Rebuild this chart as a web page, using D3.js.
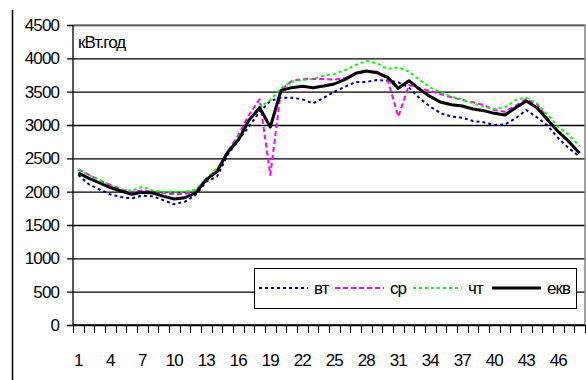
<!DOCTYPE html>
<html>
<head>
<meta charset="utf-8">
<script src="https://cdn.jsdelivr.net/npm/d3@7"></script>
<style>
  html, body { margin: 0; padding: 0; background: #fff; }
  svg { display: block; }
  text { font-family: "Liberation Sans", Arial, sans-serif; fill: #000; }
</style>
</head>
<body>
<svg id="chart" width="586" height="380"></svg>
<script>
// Half-hour intervals of the day
const hours = [1,2,3,4,5,6,7,8,9,10,11,12,13,14,15,16,17,18,19,20,21,22,23,24,
               25,26,27,28,29,30,31,32,33,34,35,36,37,38,39,40,41,42,43,44,45,46,47,48];

// Load by day, kW·h
const vt  = [2250,2110,2030,1960,1920,1900,1940,1930,1870,1810,1850,1950,2150,2225,2550,2775,
             2975,3200,3360,3410,3410,3385,3325,3405,3500,3575,3645,3645,3675,3665,3640,3560,
             3400,3275,3175,3125,3110,3060,3040,3000,3010,3100,3225,3115,2990,2800,2650,2525];
const sr  = [2340,2250,2170,2100,2040,1990,2020,2000,1980,1960,1970,2000,2200,2325,2600,2850,
             3150,3385,2250,3525,3660,3690,3690,3690,3680,3700,3760,3810,3800,3680,3125,3600,
             3550,3510,3460,3415,3375,3340,3300,3225,3200,3290,3390,3310,3100,2900,2740,2590];
const cht = [2330,2250,2175,2090,2025,2015,2075,2015,2000,2000,2000,2025,2200,2350,2575,2825,
             3075,3275,3375,3550,3650,3675,3690,3740,3765,3825,3900,3960,3925,3840,3865,3800,
             3675,3560,3485,3425,3380,3325,3275,3240,3265,3375,3410,3325,3150,2975,2850,2680];
const ekv = [2280,2200,2130,2060,2010,1960,1990,1980,1930,1890,1910,1980,2180,2300,2590,2775,
             3070,3260,2970,3520,3560,3580,3560,3585,3615,3685,3775,3810,3785,3715,3550,3665,
             3535,3425,3340,3305,3285,3240,3215,3175,3150,3260,3360,3260,3075,2900,2750,2575];

const yTicks = [0,500,1000,1500,2000,2500,3000,3500,4000,4500];
const xLabels = [1,4,7,10,13,16,19,22,25,28,31,34,37,40,43,46];
const seriesNames = ["вт","ср","чт","екв"];
const unitLabel = "кВт.год";

const series = [
  { name: seriesNames[0], values: vt,  color: "#000080", width: 2, dash: "3,3" },
  { name: seriesNames[1], values: sr,  color: "#FF00FF", width: 2, dash: "5,3" },
  { name: seriesNames[2], values: cht, color: "#00FF00", width: 2, dash: "3,3" },
  { name: seriesNames[3], values: ekv, color: "#000000", width: 3, dash: null }
];

const FONT = 17, SPACING = -0.9;

const svg = d3.select("#chart");
const plot = { left: 73, right: 585, top: 25, bottom: 325 };

const x = d3.scaleBand().domain(hours).range([plot.left, plot.right]).padding(0);
const y = d3.scaleLinear().domain([0, 4500]).range([plot.bottom, plot.top]);

// Outer frame line on the left
svg.append("line")
  .attr("x1", 12.5).attr("x2", 12.5).attr("y1", 10).attr("y2", 380)
  .attr("stroke", "#000").attr("stroke-width", 1.5);

// Horizontal gridlines with outward ticks on the value axis
const yAxis = d3.axisLeft(y)
  .tickValues(yTicks)
  .tickSize(-(plot.right - plot.left))
  .tickSizeOuter(0)
  .tickPadding(14)
  .tickFormat(d3.format("d"));

const gy = svg.append("g")
  .attr("transform", `translate(${plot.left},0)`)
  .call(yAxis);
gy.select(".domain").remove();
gy.selectAll(".tick line")
  .attr("x1", -6)
  .attr("stroke", "#000")
  .attr("stroke-width", 1.3);
gy.selectAll(".tick text")
  .attr("font-size", FONT)
  .attr("letter-spacing", SPACING)
  .attr("fill", "#000");

// Plot area border (top and right)
svg.append("path")
  .attr("d", `M${plot.left},${plot.top}H${plot.right}V${plot.bottom}`)
  .attr("fill", "none").attr("stroke", "#808080").attr("stroke-width", 1.5);

// Value axis line
svg.append("line")
  .attr("x1", plot.left).attr("x2", plot.left)
  .attr("y1", plot.top).attr("y2", plot.bottom)
  .attr("stroke", "#000").attr("stroke-width", 1.3);

// Category axis: ticks at band boundaries, labels at every third interval
const edges = hours.map(h => x(h)).concat([x(hours[hours.length - 1]) + x.bandwidth()]);
svg.append("g").selectAll("line")
  .data(edges)
  .join("line")
  .attr("x1", d => Math.round(d) + 0.5).attr("x2", d => Math.round(d) + 0.5)
  .attr("y1", plot.bottom).attr("y2", plot.bottom + 8)
  .attr("stroke", "#000").attr("stroke-width", 1);

const xAxis = d3.axisBottom(x)
  .tickValues(xLabels)
  .tickSize(0)
  .tickPadding(29);
const gx = svg.append("g")
  .attr("transform", `translate(0,${plot.bottom})`)
  .call(xAxis);
gx.select(".domain").remove();
gx.selectAll(".tick text")
  .attr("font-size", FONT)
  .attr("letter-spacing", SPACING)
  .attr("fill", "#000");

svg.append("line")
  .attr("x1", plot.left).attr("x2", plot.right)
  .attr("y1", plot.bottom).attr("y2", plot.bottom)
  .attr("stroke", "#000").attr("stroke-width", 1.5);

// Unit label inside the plot
svg.append("text")
  .attr("x", 78).attr("y", 48)
  .attr("font-size", FONT)
  .attr("letter-spacing", SPACING)
  .text(unitLabel);

// Series lines
const line = d3.line()
  .x((d, i) => x(hours[i]) + x.bandwidth() / 2)
  .y(d => y(d));

svg.append("g").selectAll("path")
  .data(series)
  .join("path")
  .attr("d", d => line(d.values))
  .attr("fill", "none")
  .attr("stroke", d => d.color)
  .attr("stroke-width", d => d.width)
  .attr("stroke-dasharray", d => d.dash)
  .attr("stroke-linejoin", "round");

// Legend
const legend = svg.append("g");
legend.append("rect")
  .attr("x", 254.5).attr("y", 268.5).attr("width", 322).attr("height", 40)
  .attr("fill", "#fff").attr("stroke", "#000").attr("stroke-width", 1);

const legendX = [259, 335, 413, 492];
const items = legend.selectAll("g.item")
  .data(series)
  .join("g")
  .attr("class", "item")
  .attr("transform", (d, i) => `translate(${legendX[i]},288)`);
items.append("line")
  .attr("x1", 0).attr("x2", 49).attr("y1", 0).attr("y2", 0)
  .attr("stroke", d => d.color)
  .attr("stroke-width", d => d.width)
  .attr("stroke-dasharray", d => d.dash);
items.append("text")
  .attr("x", 55)
  .attr("y", 6)
  .attr("font-size", FONT)
  .attr("letter-spacing", SPACING)
  .text(d => d.name);
</script>
</body>
</html>
